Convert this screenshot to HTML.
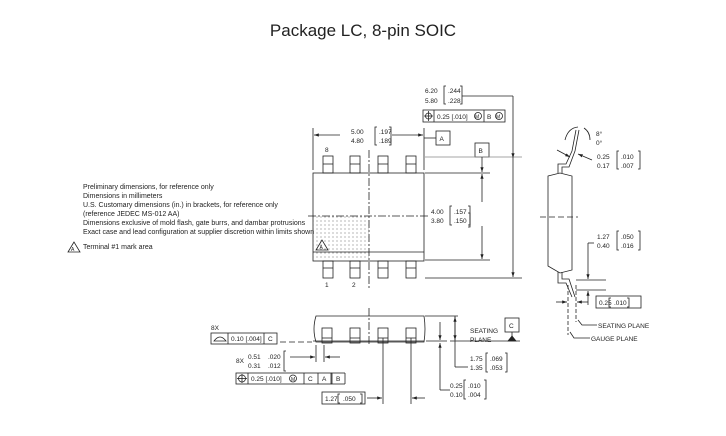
<!DOCTYPE html>
<html><head><meta charset="utf-8"><style>
html,body{margin:0;padding:0;background:#fff;width:726px;height:436px;overflow:hidden}
svg{display:block}
text{font-family:"Liberation Sans",sans-serif;fill:#222}
.t{font-size:7px}
.s{font-size:6.5px}
</style></head><body>
<svg width="726" height="436" viewBox="0 0 726 436" xmlns="http://www.w3.org/2000/svg">
<defs>
<pattern id="dots" width="4" height="4" patternUnits="userSpaceOnUse"><circle cx="1" cy="1" r="0.5" fill="#444"/></pattern>
<marker id="ar" markerWidth="6" markerHeight="6" refX="6" refY="3" orient="auto"><path d="M0,1 L6,3 L0,5z" fill="#222"/></marker>
</defs>
<text x="363" y="36" font-size="17" text-anchor="middle">Package LC, 8-pin SOIC</text>

<!-- notes -->
<g class="t">
<text x="83" y="189">Preliminary dimensions, for reference only</text>
<text x="83" y="198">Dimensions in millimeters</text>
<text x="83" y="207">U.S. Customary dimensions (in.) in brackets, for reference only</text>
<text x="83" y="216">(reference JEDEC MS-012 AA)</text>
<text x="83" y="225">Dimensions exclusive of mold flash, gate burrs, and dambar protrusions</text>
<text x="83" y="234">Exact case and lead configuration at supplier discretion within limits shown</text>
<text x="83" y="249">Terminal #1 mark area</text>
</g>
<path d="M74,242 L68,252 L80,252Z" fill="none" stroke="#222" stroke-width="0.8"/>
<text x="71" y="251" font-size="5">A</text>

<g stroke="#222" stroke-width="0.8" fill="none">
<!-- top view -->
<rect x="313" y="216" width="56" height="44" fill="url(#dots)" stroke="none"/>
<rect x="313" y="173" width="111" height="88"/>
<line x1="313" y1="252" x2="424" y2="252"/>
<rect x="323" y="156" width="10" height="17"/><line x1="323" y1="164" x2="333" y2="164"/>
<rect x="350" y="156" width="10" height="17"/><line x1="350" y1="164" x2="360" y2="164"/>
<rect x="378" y="156" width="10" height="17"/><line x1="378" y1="164" x2="388" y2="164"/>
<rect x="406" y="156" width="10" height="17"/><line x1="406" y1="164" x2="416" y2="164"/>
<rect x="323" y="261" width="10" height="17"/><line x1="323" y1="268" x2="333" y2="268"/>
<rect x="350" y="261" width="10" height="17"/><line x1="350" y1="268" x2="360" y2="268"/>
<rect x="378" y="261" width="10" height="17"/><line x1="378" y1="268" x2="388" y2="268"/>
<rect x="406" y="261" width="10" height="17"/><line x1="406" y1="268" x2="416" y2="268"/>
<line x1="369" y1="150" x2="369" y2="290" stroke-dasharray="8,2,2,2"/>
<line x1="308" y1="216" x2="430" y2="216" stroke-dasharray="8,2,2,2"/>
<path d="M64,242" />
<!-- 5.00 dim -->
<line x1="313" y1="128" x2="313" y2="170"/><line x1="424" y1="128" x2="424" y2="170"/>
<line x1="340" y1="135" x2="314" y2="135" marker-end="url(#ar)"/>
<line x1="392" y1="135" x2="423" y2="135" marker-end="url(#ar)"/>
<rect x="436" y="131" width="14" height="14"/>
<line x1="424" y1="138" x2="436" y2="138"/>
<rect x="475" y="143" width="14" height="14"/>
<!-- horizontal ext -->
<line x1="425" y1="157" x2="522" y2="157" stroke="#888"/>
<line x1="425" y1="173" x2="490" y2="173"/>
<line x1="425" y1="260" x2="490" y2="260"/>
<line x1="425" y1="278" x2="522" y2="278"/>
<line x1="482" y1="157" x2="482" y2="172" marker-end="url(#ar)"/>
<line x1="482" y1="202" x2="482" y2="174" marker-end="url(#ar)"/>
<line x1="482" y1="226" x2="482" y2="259" marker-end="url(#ar)"/>
<line x1="462" y1="96" x2="513" y2="96"/>
<line x1="513" y1="96" x2="513" y2="158" marker-end="url(#ar)"/>
<line x1="513" y1="158" x2="513" y2="277" marker-end="url(#ar)"/>
<path d="M468,213 h2 v14 h-2 M459,213" />
<rect x="423" y="110" width="82" height="12"/>
<line x1="434" y1="110" x2="434" y2="122"/><line x1="484" y1="110" x2="484" y2="122"/>
<circle cx="428.5" cy="116" r="3"/><line x1="424" y1="116" x2="433" y2="116"/><line x1="428.5" y1="111" x2="428.5" y2="121"/>
<circle cx="478" cy="116" r="3.5"/><circle cx="499" cy="116" r="3.5"/>

<!-- side view -->
<path d="M316,316 L424,316 Q426,329 424,342 L316,342 Q312,329 316,316Z"/>
<rect x="322" y="328" width="10" height="15"/><line x1="322" y1="338" x2="332" y2="338"/>
<rect x="350" y="328" width="10" height="15"/><line x1="350" y1="338" x2="360" y2="338"/>
<rect x="378" y="328" width="10" height="15"/><line x1="378" y1="338" x2="388" y2="338"/><line x1="383" y1="338" x2="383" y2="404"/>
<rect x="406" y="328" width="10" height="15"/><line x1="406" y1="338" x2="416" y2="338"/><line x1="411" y1="338" x2="411" y2="404"/>
<line x1="313" y1="341" x2="424" y2="341"/>
<line x1="369" y1="308" x2="369" y2="345" stroke-dasharray="8,2,2,2"/>
<line x1="280" y1="342" x2="312" y2="342" stroke-dasharray="6,3"/>
<line x1="425" y1="316" x2="458" y2="316"/>
<line x1="426" y1="341" x2="447" y2="341"/>
<line x1="450" y1="341" x2="520" y2="341"/>
<line x1="455" y1="316" x2="455" y2="340" marker-end="url(#ar)"/>
<line x1="455" y1="340" x2="455" y2="317" marker-end="url(#ar)"/>
<line x1="455" y1="340" x2="455" y2="367"/><line x1="455" y1="367" x2="468" y2="367"/>
<line x1="440" y1="322" x2="440" y2="340" marker-end="url(#ar)"/>
<line x1="440" y1="360" x2="440" y2="343" marker-end="url(#ar)"/>
<line x1="440" y1="360" x2="440" y2="390"/><line x1="440" y1="390" x2="450" y2="390"/>
<rect x="505" y="318" width="14" height="14"/>
<line x1="512" y1="332" x2="512" y2="341"/>
<path d="M508,341 L512,336 L516,341Z" fill="#222"/>
<line x1="316" y1="345" x2="316" y2="362"/><line x1="324" y1="345" x2="324" y2="362"/>
<line x1="290" y1="357" x2="315" y2="357" marker-end="url(#ar)"/>
<line x1="340" y1="357" x2="325" y2="357" marker-end="url(#ar)"/>
<line x1="367" y1="398" x2="382" y2="398" marker-end="url(#ar)"/>
<line x1="425" y1="398" x2="412" y2="398" marker-end="url(#ar)"/>
<rect x="211" y="333" width="66" height="11"/>
<line x1="228" y1="333" x2="228" y2="344"/><line x1="264" y1="333" x2="264" y2="344"/>
<path d="M214,341 Q220,333 226,341Z"/>
<rect x="236" y="373" width="95" height="11"/>
<line x1="248" y1="373" x2="248" y2="384"/><line x1="304" y1="373" x2="304" y2="384"/><line x1="318" y1="373" x2="318" y2="384"/>
<circle cx="242" cy="378.5" r="3.5"/><line x1="237" y1="378.5" x2="247" y2="378.5"/><line x1="242" y1="374" x2="242" y2="383"/>
<circle cx="293" cy="378.5" r="3.5"/>
<rect x="322" y="392" width="43" height="12"/>

<!-- end view -->
<path d="M548,176 L560,173 L572,176 L572,270 L560,273 L548,266Z"/>
<path d="M558,173 L558,164 L566,164 L572,151 L576,130"/>
<path d="M562,173 L562,167 L569,167 L575,151 L579,130"/>
<path d="M558,272 L558,283 L566,283 L572,297"/>
<path d="M562,272 L562,279 L569,279 L575,297"/>
<line x1="540" y1="217" x2="578" y2="217" stroke-dasharray="6,3"/>
<line x1="576" y1="290" x2="606" y2="290"/>
<line x1="576" y1="280" x2="606" y2="280"/>
<line x1="588" y1="243" x2="588" y2="279" marker-end="url(#ar)"/>
<line x1="588" y1="243" x2="594" y2="243"/>
<line x1="588" y1="305" x2="588" y2="291" marker-end="url(#ar)"/>
<line x1="568" y1="285" x2="568" y2="335" stroke-dasharray="4,2"/>
<line x1="576" y1="285" x2="576" y2="322" stroke-dasharray="4,2"/>
<line x1="556" y1="302" x2="567" y2="302" marker-end="url(#ar)"/>
<line x1="588" y1="302" x2="577" y2="302" marker-end="url(#ar)"/>
<rect x="596" y="296" width="45" height="12"/>
<path d="M578,320 L582,325 L597,325"/>
<path d="M570,332 L574,338 L590,338"/>
<line x1="557" y1="150" x2="570" y2="157" marker-end="url(#ar)"/>
<line x1="592" y1="160" x2="578" y2="154" marker-end="url(#ar)"/>
<path d="M565,140 Q568,128 578,127"/><path d="M584,128 Q590,132 590,140"/>
<path d="M548,214" />
</g>

<!-- brackets -->
<g stroke="#222" stroke-width="0.8" fill="none">
<path d="M446,86 h-2 v18 h2 M460,86 h2 v18 h-2"/>
<path d="M377,127 h-2 v18 h2 M389,127 h2 v18 h-2"/>
<path d="M452,206 h-2 v19 h2 M468,206 h2 v19 h-2"/>
<path d="M619,151 h-2 v18 h2 M638,151 h2 v18 h-2"/>
<path d="M619,231 h-2 v19 h2 M638,231 h2 v19 h-2"/>
<path d="M611,298 h-2 v9 h2 M627,298 h2 v9 h-2"/>
<path d="M488,353 h-2 v19 h2 M505,353 h2 v19 h-2"/>
<path d="M466,380 h-2 v19 h2 M484,380 h2 v19 h-2"/>
<path d="M286,351 h-2 v20 h2 M233,351 M285,351" />
<path d="M340,394 h-2 v9 h2 M360,394 h2 v9 h-2"/>
</g>

<g class="s">
<text x="425" y="93">6.20</text><text x="448" y="93">.244</text>
<text x="425" y="103">5.80</text><text x="448" y="103">.228</text>
<text x="437" y="119">0.25 [.010]</text><text x="475" y="118.5" font-size="5">M</text><text x="487" y="119">B</text><text x="496" y="118.5" font-size="5">M</text>
<text x="351" y="134">5.00</text><text x="379" y="134">.197</text>
<text x="351" y="143">4.80</text><text x="379" y="143">.189</text>
<text x="439.5" y="141">A</text><text x="478.5" y="153">B</text>
<text x="325" y="152">8</text>
<text x="325" y="287">1</text><text x="352" y="287">2</text>
<text x="431" y="214">4.00</text><text x="454" y="214">.157</text>
<text x="431" y="223">3.80</text><text x="454" y="223">.150</text>
<text x="596" y="136">8°</text><text x="596" y="145">0°</text>
<text x="597" y="159">0.25</text><text x="621" y="159">.010</text>
<text x="597" y="168">0.17</text><text x="621" y="168">.007</text>
<text x="597" y="239">1.27</text><text x="621" y="239">.050</text>
<text x="597" y="248">0.40</text><text x="621" y="248">.016</text>
<text x="599" y="305">0.25</text><text x="614" y="305">.010</text>
<text x="598" y="328">SEATING PLANE</text>
<text x="591" y="341">GAUGE PLANE</text>
<text x="470" y="333">SEATING</text><text x="470" y="342">PLANE</text>
<text x="509" y="328">C</text>
<text x="470" y="361">1.75</text><text x="490" y="361">.069</text>
<text x="470" y="370">1.35</text><text x="490" y="370">.053</text>
<text x="450" y="388">0.25</text><text x="468" y="388">.010</text>
<text x="450" y="397">0.10</text><text x="468" y="397">.004</text>
<text x="211" y="330">8X</text>
<text x="231" y="341">0.10 [.004]</text><text x="268" y="341">C</text>
<text x="236" y="363">8X</text><text x="248" y="359">0.51</text><text x="248" y="368">0.31</text>
<text x="268" y="359">.020</text><text x="268" y="368">.012</text>
<text x="251" y="381">0.25 [.010]</text><text x="291" y="381" font-size="5">M</text><text x="308" y="381">C</text><text x="322" y="381">A</text>
<text x="336" y="381">B</text>
<text x="325" y="401">1.27</text><text x="343" y="401">.050</text>
</g>
<line x1="332" y1="373" x2="332" y2="384" stroke="#222" stroke-width="0.8"/>
<line x1="331" y1="373" x2="345" y2="373" stroke="#222" stroke-width="0.8"/>
<line x1="345" y1="373" x2="345" y2="384" stroke="#222" stroke-width="0.8"/>
<line x1="331" y1="384" x2="345" y2="384" stroke="#222" stroke-width="0.8"/>
<path d="M322,240 L316,250 L328,250Z" fill="none" stroke="#222" stroke-width="0.8"/>
<text x="319.5" y="249" font-size="5">A</text>
</svg>
</body></html>
